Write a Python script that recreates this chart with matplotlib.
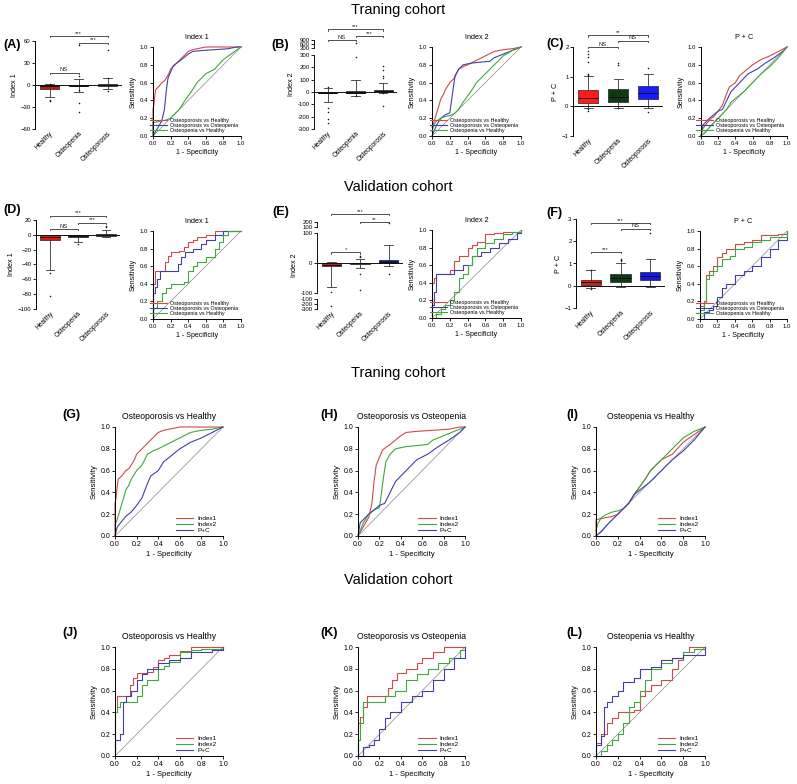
import numpy as np
import matplotlib
matplotlib.use('Agg')
import matplotlib.pyplot as plt

plt.rcParams['font.family'] = ['Liberation Sans', 'DejaVu Sans']

# ---------------- DATA ----------------
groups = ['Healthy', 'Osteopenia', 'Osteoporosis']
comparisons = ['Osteoporosis vs Healthy', 'Osteoporosis vs Osteopenia', 'Osteopenia vs Healthy']
index_titles = ['Index 1', 'Index 2', 'P + C']
index_legend = ['Index1', 'Index2', 'P+C']

# ROC curves (fpr list, tpr list) -- training cohort
train_i1_ovh = ([0, 0, 0.01, 0.02, 0.03, 0.05, 0.07, 0.1, 0.13, 0.15, 0.18, 0.2, 0.23, 0.25, 0.3, 0.35, 0.4, 0.45, 0.5, 0.6, 0.8, 1.0],
                [0, 0.3, 0.35, 0.45, 0.52, 0.54, 0.56, 0.6, 0.62, 0.65, 0.7, 0.75, 0.78, 0.8, 0.85, 0.9, 0.95, 0.97, 0.98, 1.0, 1.0, 1.0])
train_i1_ovo = ([0, 0.03, 0.07, 0.1, 0.13, 0.15, 0.17, 0.2, 0.23, 0.27, 0.3, 0.35, 0.4, 0.45, 0.55, 0.7, 0.85, 0.95, 1.0],
                [0, 0.05, 0.12, 0.17, 0.3, 0.5, 0.65, 0.72, 0.79, 0.82, 0.84, 0.88, 0.92, 0.95, 0.96, 0.97, 0.98, 1.0, 1.0])
train_i1_pvh = ([0, 0, 0.05, 0.1, 0.15, 0.2, 0.25, 0.3, 0.35, 0.4, 0.45, 0.5, 0.55, 0.6, 0.7, 0.8, 0.9, 1.0],
                [0, 0.15, 0.16, 0.17, 0.18, 0.2, 0.25, 0.3, 0.38, 0.45, 0.52, 0.6, 0.65, 0.7, 0.75, 0.86, 0.93, 1.0])
train_i2_ovh = ([0, 0.02, 0.05, 0.08, 0.1, 0.13, 0.15, 0.2, 0.25, 0.3, 0.35, 0.4, 0.5, 0.6, 0.7, 0.8, 0.9, 1.0],
                [0.1, 0.15, 0.25, 0.35, 0.42, 0.47, 0.52, 0.6, 0.65, 0.75, 0.78, 0.8, 0.85, 0.9, 0.95, 0.97, 0.98, 1.0])
train_i2_ovo = ([0, 0.05, 0.1, 0.15, 0.2, 0.22, 0.24, 0.26, 0.3, 0.35, 0.45, 0.55, 0.65, 0.7, 0.8, 0.9, 1.0],
                [0, 0.12, 0.2, 0.24, 0.26, 0.4, 0.55, 0.68, 0.75, 0.8, 0.82, 0.83, 0.84, 0.88, 0.92, 0.96, 1.0])
train_i2_pvh = ([0, 0.02, 0.05, 0.1, 0.15, 0.2, 0.25, 0.3, 0.35, 0.4, 0.45, 0.5, 0.6, 0.7, 0.8, 0.9, 1.0],
                [0.05, 0.12, 0.17, 0.2, 0.22, 0.23, 0.25, 0.3, 0.38, 0.45, 0.52, 0.6, 0.7, 0.8, 0.9, 0.96, 1.0])
train_pc_ovh = ([0, 0.02, 0.05, 0.1, 0.15, 0.2, 0.25, 0.3, 0.33, 0.4, 0.45, 0.5, 0.6, 0.7, 0.8, 0.9, 1.0],
                [0, 0.08, 0.12, 0.18, 0.22, 0.28, 0.35, 0.48, 0.55, 0.6, 0.68, 0.72, 0.8, 0.86, 0.9, 0.95, 1.0])
train_pc_ovo = ([0, 0.02, 0.05, 0.1, 0.15, 0.2, 0.25, 0.3, 0.35, 0.4, 0.45, 0.55, 0.65, 0.75, 0.85, 0.95, 1.0],
                [0, 0.12, 0.15, 0.2, 0.24, 0.28, 0.3, 0.4, 0.5, 0.55, 0.6, 0.7, 0.75, 0.82, 0.88, 0.95, 1.0])
train_pc_pvh = ([0, 0.05, 0.1, 0.2, 0.3, 0.35, 0.4, 0.5, 0.6, 0.7, 0.8, 0.9, 1.0],
                [0, 0.04, 0.1, 0.2, 0.3, 0.38, 0.42, 0.5, 0.6, 0.7, 0.78, 0.88, 1.0])

# ROC curves -- validation cohort
valid_i1_ovh = ([0, 0, 0.02, 0.12, 0.14, 0.17, 0.2, 0.3, 0.35, 0.4, 0.45, 0.5, 0.6, 0.7, 1.0],
                [0, 0.4, 0.55, 0.55, 0.65, 0.72, 0.76, 0.77, 0.82, 0.88, 0.9, 0.93, 0.96, 1.0, 1.0])
valid_i1_ovo = ([0, 0, 0.02, 0.05, 0.08, 0.25, 0.28, 0.32, 0.36, 0.45, 0.55, 0.6, 0.7, 0.8, 1.0],
                [0, 0.3, 0.36, 0.45, 0.55, 0.55, 0.62, 0.7, 0.76, 0.8, 0.85, 0.9, 0.95, 1.0, 1.0])
valid_i1_pvh = ([0, 0, 0.05, 0.1, 0.15, 0.2, 0.35, 0.4, 0.45, 0.5, 0.6, 0.7, 0.75, 0.8, 0.85, 1.0],
                [0, 0.12, 0.2, 0.3, 0.35, 0.4, 0.42, 0.55, 0.6, 0.65, 0.7, 0.8, 0.88, 0.95, 1.0, 1.0])
valid_i2_ovh = ([0, 0, 0.02, 0.05, 0.15, 0.2, 0.25, 0.3, 0.4, 0.45, 0.5, 0.6, 0.7, 0.8, 1.0],
                [0, 0.4, 0.45, 0.5, 0.5, 0.55, 0.65, 0.7, 0.8, 0.83, 0.86, 0.95, 0.97, 0.98, 1.0])
valid_i2_ovo = ([0, 0, 0.02, 0.05, 0.15, 0.25, 0.35, 0.45, 0.55, 0.65, 0.75, 0.85, 0.95, 1.0],
                [0, 0.15, 0.3, 0.5, 0.5, 0.55, 0.6, 0.7, 0.75, 0.8, 0.85, 0.9, 0.97, 1.0])
valid_i2_pvh = ([0, 0.05, 0.1, 0.15, 0.2, 0.25, 0.3, 0.35, 0.4, 0.45, 0.5, 0.6, 0.7, 0.8, 0.9, 1.0],
                [0, 0.05, 0.1, 0.15, 0.2, 0.3, 0.45, 0.5, 0.6, 0.7, 0.8, 0.85, 0.9, 0.95, 0.98, 1.0])
valid_pc_ovh = ([0, 0, 0.05, 0.07, 0.1, 0.15, 0.2, 0.25, 0.3, 0.4, 0.5, 0.6, 0.7, 0.9, 1.0],
                [0, 0.15, 0.2, 0.5, 0.55, 0.6, 0.7, 0.75, 0.8, 0.85, 0.88, 0.9, 0.95, 0.97, 1.0])
valid_pc_ovo = ([0, 0.05, 0.1, 0.15, 0.2, 0.25, 0.3, 0.4, 0.5, 0.6, 0.7, 0.8, 0.9, 1.0],
                [0, 0.08, 0.1, 0.15, 0.25, 0.35, 0.4, 0.5, 0.55, 0.6, 0.7, 0.8, 0.9, 1.0])
valid_pc_pvh = ([0, 0, 0.05, 0.07, 0.1, 0.15, 0.2, 0.25, 0.35, 0.4, 0.5, 0.6, 0.7, 0.8, 1.0],
                [0, 0.1, 0.18, 0.45, 0.5, 0.55, 0.6, 0.68, 0.72, 0.8, 0.82, 0.88, 0.9, 0.93, 1.0])

# Box / whisker summaries for the group panels (Healthy, Osteopenia, Osteoporosis)
a_q1 = [-5, -2, -1]; a_med = [-2, -1, 0]; a_q3 = [0, 0, 1]
a_lo = [-17, -10, -5]; a_hi = [1, 8, 9]
a_fliers = [[-20, -22, 1.5], [55, 12, -7, -25, -37], [48, 10, -8]]
a_sig = ['NS', '***', '***']

b_q1 = [-10, -12, 5]; b_med = [-5, -5, 10]; b_q3 = [-2, 5, 15]
b_lo = [-85, -30, -10]; b_hi = [35, 100, 70]
b_fliers = [[40, -130, -160, -220, -250], [700, 280, -30], [210, 180, 130, 110, -110, -5]]
b_sig = ['NS', '***', '***']

c_q1 = [0.12, 0.15, 0.25]; c_med = [0.28, 0.3, 0.45]; c_q3 = [0.55, 0.58, 0.68]
c_lo = [-0.05, -0.05, -0.05]; c_hi = [1.03, 0.93, 1.1]
c_fliers = [[1.85, 1.75, 1.65, 1.5, 1.1, 1.05, -0.1, -0.15], [1.45, 1.4, -0.05], [1.3, -0.2]]
c_sig = ['NS', 'NS', '**']

d_q1 = [-7, -3, -2]; d_med = [-3, -1, 0]; d_q3 = [0, 0, 1]
d_lo = [-47, -10, -3]; d_hi = [0, 0, 7]
d_fliers = [[-52, -83], [-12], [10, 12]]
d_sig = ['NS', '***', '***']

e_q1 = [-10, -3, 0]; e_med = [-5, 0, 5]; e_q3 = [0, 2, 10]
e_lo = [-80, -15, -10]; e_hi = [5, 15, 60]
e_fliers = [[-95, -250], [25, 20, -35, -90], [190, -35]]
e_sig = ['*', '**', '***']

f_q1 = [0.05, 0.15, 0.28]; f_med = [0.15, 0.35, 0.45]; f_q3 = [0.28, 0.55, 0.62]
f_lo = [-0.1, -0.05, -0.05]; f_hi = [0.7, 1.0, 1.22]
f_fliers = [[0.72, -0.15], [1.15, 1.2, 1.1], [2.35]]
f_sig = ['***', 'NS', '***']

# ---------------- FIGURE ----------------
W, H = 797, 784
fig = plt.figure(figsize=(W / 100, H / 100), dpi=100)

def fax(x0, y0, x1, y1):
    return fig.add_axes([x0 / W, 1 - y1 / H, (x1 - x0) / W, (y1 - y0) / H])

RED, BLUE, GREEN = '#d04a4a', '#4040a8', '#3fa83f'
roc_colors = [RED, BLUE, GREEN]


def seg_scale(lo, hi, gap_lo, gap_hi, k_lo, k_hi):
    def fwd(y):
        y = np.asarray(y, float)
        return np.where(y > hi, hi + gap_hi + (y - hi) * k_hi,
                        np.where(y < lo, lo - gap_lo + (y - lo) * k_lo, y))

    def inv(z):
        z = np.asarray(z, float)
        up = hi + gap_hi
        dn = lo - gap_lo
        return np.where(z > up, hi + (z - up) / k_hi,
                        np.where(z > hi, hi,
                                 np.where(z < dn, lo + (z - dn) / k_lo,
                                          np.where(z < lo, lo, z))))
    return fwd, inv


def style_ticks(ax, fs):
    ax.tick_params(axis='both', labelsize=fs, length=2, width=0.6, pad=1.5)
    for s in ['top', 'right']:
        ax.spines[s].set_visible(False)
    for s in ['left', 'bottom']:
        ax.spines[s].set_linewidth(0.7)


def bracket(ax, x0, x1, yf, text):
    tr = ax.get_xaxis_transform()
    ax.plot([x0, x0, x1, x1], [yf - 0.015, yf, yf, yf - 0.015], transform=tr,
            color='#333333', lw=0.6, clip_on=False)
    ax.text((x0 + x1) / 2, yf + 0.004, text, transform=tr, ha='center', va='bottom',
            fontsize=4.2, color='#222222')


def group_panel(ax, q1, med, q3, lo, hi, fliers, colors, ylabel, sig, sig_y):
    stats = []
    for i in range(3):
        stats.append(dict(q1=q1[i], med=med[i], q3=q3[i], whislo=lo[i], whishi=hi[i],
                          fliers=fliers[i], label=groups[i]))
    bp = ax.bxp(stats, positions=[0, 1, 2], widths=0.68, patch_artist=True,
                capwidths=0.3, showfliers=True,
                boxprops=dict(linewidth=0.5, edgecolor='#222222'),
                medianprops=dict(color='#111111', linewidth=0.7),
                whiskerprops=dict(color='#333333', linewidth=0.6),
                capprops=dict(color='#333333', linewidth=0.6),
                flierprops=dict(marker='o', markersize=0.8, markerfacecolor='#111111',
                                markeredgecolor='#111111', markeredgewidth=0.3,
                                linestyle='none'))
    for patch, c in zip(bp['boxes'], colors):
        patch.set_facecolor(c)
    ax.set_xlim(-0.5, 2.5)
    ax.axhline(0, color='#111111', lw=0.7)
    ax.spines['bottom'].set_visible(False)
    ax.spines['top'].set_visible(False)
    ax.spines['right'].set_visible(False)
    ax.spines['left'].set_linewidth(0.7)
    ax.tick_params(axis='y', labelsize=4.3, length=2, width=0.6, pad=1.2)
    ax.tick_params(axis='x', length=0, pad=1)
    ax.set_xticks([0, 1, 2])
    ax.set_xticklabels(groups, rotation=45, ha='right', rotation_mode='anchor', fontsize=4.8)
    ax.set_ylabel(ylabel, fontsize=5.2, labelpad=2)
    pairs = [(0, 1), (1, 2), (0, 2)]
    for (p0, p1), s, yf in zip(pairs, sig, sig_y):
        bracket(ax, p0, p1, yf, s)


def roc_panel(ax, curves, colors, labels, title, fs_tick, fs_lab, fs_title, fs_leg,
              steps, leg_anchor, hl):
    ax.plot([0, 1], [0, 1], color='#9a9a9a', lw=0.6)
    for (fpr, tpr), c, lab in zip(curves, colors, labels):
        ax.plot(fpr, tpr, color=c, lw=0.8, label=lab,
                drawstyle='steps-post' if steps else 'default', clip_on=False)
    ax.set_xlim(0, 1)
    ax.set_ylim(0, 1)
    ax.set_xticks(np.arange(0, 1.01, 0.2))
    ax.set_yticks(np.arange(0, 1.01, 0.2))
    ax.xaxis.set_major_formatter(matplotlib.ticker.FormatStrFormatter('%.1f'))
    ax.yaxis.set_major_formatter(matplotlib.ticker.FormatStrFormatter('%.1f'))
    style_ticks(ax, fs_tick)
    ax.set_xlabel('1 - Specificity', fontsize=fs_lab, labelpad=2)
    ax.set_ylabel('Sensitivity', fontsize=fs_lab, labelpad=2)
    ax.set_title(title, fontsize=fs_title, pad=6)
    ax.legend(loc='lower right', bbox_to_anchor=leg_anchor, fontsize=fs_leg, frameon=False,
              handlelength=hl, labelspacing=0.05, borderpad=0, handletextpad=0.6)


# Section titles
fig.text(398 / W, 1 - 10 / H, 'Traning cohort', ha='center', va='center', fontsize=10.5)
fig.text(398 / W, 1 - 187 / H, 'Validation cohort', ha='center', va='center', fontsize=10.5)
fig.text(398 / W, 1 - 373 / H, 'Traning cohort', ha='center', va='center', fontsize=10.5)
fig.text(398 / W, 1 - 580 / H, 'Validation cohort', ha='center', va='center', fontsize=10.5)

# Panel letters
for lab, x, y in [('(A)', 3, 45), ('(B)', 271, 45), ('(C)', 546, 44),
                  ('(D)', 3, 210), ('(E)', 272, 212), ('(F)', 546, 213),
                  ('(G)', 62, 415), ('(H)', 320, 415), ('(I)', 566, 415),
                  ('(J)', 62, 633), ('(K)', 320, 633), ('(L)', 566, 633)]:
    fig.text(x / W, 1 - y / H, lab, ha='left', va='center', fontsize=9, fontweight='bold')

# ---- Row 1 group panels ----
axA = fax(35, 41, 122, 129)
group_panel(axA, a_q1, a_med, a_q3, a_lo, a_hi, a_fliers,
            ['#cc1414', '#151515', '#151515'], 'Index 1', a_sig, [0.64, 0.98, 1.055])
axA.set_ylim(-60, 60)
axA.set_yticks([-60, -30, 0, 30, 60])

axB = fax(314, 40, 397, 129)
fB, iB = seg_scale(-1e6, 300, 0, 57, 1, 0.108)
axB.set_yscale('function', functions=(fB, iB))
group_panel(axB, b_q1, b_med, b_q3, b_lo, b_hi, b_fliers,
            ['#7a1a1a', '#202020', '#1a2a9a'], 'Index 2', b_sig, [1.0, 1.045, 1.12])
axB.set_ylim(-300, 900)
axB.set_yticks([-300, -200, -100, 0, 100, 200, 300, 300.5, 600, 900])
axB.set_yticklabels(['-300', '-200', '-100', '0', '100', '200', '300', '300', '600', '900'])
axB.yaxis.set_minor_locator(matplotlib.ticker.NullLocator())
axB.spines['left'].set_visible(False)
trB = axB.get_yaxis_transform()
axB.plot([0, 0], [-300, 300], transform=trB, color='#111111', lw=0.7, clip_on=False)
axB.plot([0, 0], [300.5, 900], transform=trB, color='#111111', lw=0.7, clip_on=False)

axC = fax(573, 47, 663, 136)
group_panel(axC, c_q1, c_med, c_q3, c_lo, c_hi, c_fliers,
            ['#ff1a1a', '#0d3a12', '#1a1aff'], 'P + C', c_sig, [1.0, 1.07, 1.13])
axC.set_ylim(-1, 2)
axC.set_yticks([-1, 0, 1, 2])

# ---- Row 2 group panels ----
axD = fax(36, 220, 120, 309)
group_panel(axD, d_q1, d_med, d_q3, d_lo, d_hi, d_fliers,
            ['#e01414', '#151515', '#151515'], 'Index 1', d_sig, [0.9, 0.97, 1.05])
axD.set_ylim(-100, 20)
axD.set_yticks([-100, -80, -60, -40, -20, 0, 20])

axE = fax(317, 222, 403, 309)
fE, iE = seg_scale(-100, 100, 18, 20, 0.17, 0.17)
axE.set_yscale('function', functions=(fE, iE))
group_panel(axE, e_q1, e_med, e_q3, e_lo, e_hi, e_fliers,
            ['#cc1414', '#151515', '#0a1a8a'], 'Index 2', e_sig, [0.65, 1.0, 1.09])
axE.set_ylim(-300, 200)
axE.set_yticks([-300, -200, -100.5, -100, 0, 100, 100.5, 200])
axE.set_yticklabels(['-300', '-200', '-100', '-100', '0', '100', '100', '200'])
axE.yaxis.set_minor_locator(matplotlib.ticker.NullLocator())
axE.spines['left'].set_visible(False)
trE = axE.get_yaxis_transform()
for seg in ([-300, -100.5], [-100, 100], [100.5, 200]):
    axE.plot([0, 0], seg, transform=trE, color='#111111', lw=0.7, clip_on=False)

axF = fax(576, 219, 665, 308)
group_panel(axF, f_q1, f_med, f_q3, f_lo, f_hi, f_fliers,
            ['#ee1414', '#0d3a12', '#1414ee'], 'P + C', f_sig, [0.63, 0.89, 0.955])
axF.set_ylim(-1, 3)
axF.set_yticks([-1, 0, 1, 2, 3])

# ---- Top ROC panels (by index) ----
train_by_index = [[train_i1_ovh, train_i1_ovo, train_i1_pvh],
                  [train_i2_ovh, train_i2_ovo, train_i2_pvh],
                  [train_pc_ovh, train_pc_ovo, train_pc_pvh]]
valid_by_index = [[valid_i1_ovh, valid_i1_ovo, valid_i1_pvh],
                  [valid_i2_ovh, valid_i2_ovo, valid_i2_pvh],
                  [valid_pc_ovh, valid_pc_ovo, valid_pc_pvh]]

top_boxes = [(153, 47, 241, 136), (432, 47, 521, 136), (701, 47, 787, 136)]
mid_boxes = [(153, 231, 241, 319), (432, 230, 521, 318), (700, 231, 787, 319)]
for k in range(3):
    ax = fax(*top_boxes[k])
    roc_panel(ax, train_by_index[k], roc_colors, comparisons, index_titles[k],
              4.3, 5.0, 5.2, 3.9, False, (1.0, 0.0), 3.2)
    ax = fax(*mid_boxes[k])
    roc_panel(ax, valid_by_index[k], roc_colors, comparisons, index_titles[k],
              4.3, 5.0, 5.2, 3.9, True, (1.0, 0.0), 3.2)

# ---- Bottom ROC panels (by comparison) ----
idx_colors = [RED, GREEN, BLUE]
g_boxes = [(115, 427, 223, 536), (358, 427, 465, 536), (596, 427, 705, 536)]
j_boxes = [(115, 647, 223, 756), (358, 647, 465, 756), (596, 647, 705, 756)]
for c in range(3):
    ax = fax(*g_boxes[c])
    roc_panel(ax, [train_by_index[i][c] for i in range(3)], idx_colors, index_legend,
              comparisons[c], 5.0, 5.5, 6.2, 4.6, False, (0.97, 0.0), 2.8)
    ax = fax(*j_boxes[c])
    roc_panel(ax, [valid_by_index[i][c] for i in range(3)], idx_colors, index_legend,
              comparisons[c], 5.0, 5.5, 6.2, 4.6, True, (0.97, 0.0), 2.8)

fig.savefig('out.png', dpi=100, facecolor='white')
